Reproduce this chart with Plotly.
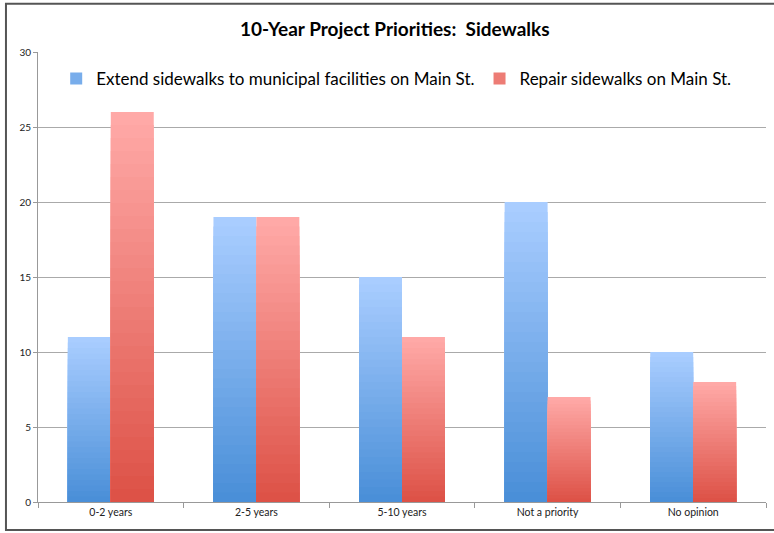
import plotly.graph_objects as go

categories = ["0-2 years", "2-5 years", "5-10 years", "Not a priority", "No opinion"]
extend_vals = [11, 19, 15, 20, 10]
repair_vals = [26, 19, 11, 7, 8]

series = [
    ("Extend sidewalks to municipal facilities on Main St.", extend_vals, (169, 205, 255), (74, 143, 216), -0.295),
    ("Repair sidewalks on Main St.", repair_vals, (255, 169, 167), (221, 82, 71), 0.0),
]

N = 30  # layers used to fake the vertical gradient
fig = go.Figure()
for name, vals, light, dark, off in series:
    for k in range(N):
        t = k / (N - 1)
        c = tuple(round(light[i] + (dark[i] - light[i]) * t) for i in range(3))
        fig.add_trace(go.Bar(
            x=categories,
            y=[v * (N - k) / N for v in vals],
            name=name,
            width=0.295,
            offset=off,
            marker=dict(color="rgb(%d,%d,%d)" % c, line=dict(width=0)),
            showlegend=(k == N // 2),
            legendgroup=name,
            hoverinfo="skip",
        ))

fig.update_layout(
    width=774, height=533,
    margin=dict(l=38, r=8, t=52, b=31, autoexpand=False),
    paper_bgcolor="white", plot_bgcolor="white",
    barmode="overlay",
    title=dict(text="<b>10-Year Project Priorities:  Sidewalks</b>", x=0.51, xanchor="center",
               y=0.944, yanchor="middle", font=dict(family="Lato", size=19, color="black")),
    legend=dict(orientation="h", x=0.025, y=0.94, xanchor="left", yanchor="middle",
                font=dict(family="Lato", size=17, color="black"), bgcolor="rgba(0,0,0,0)",
                itemwidth=30, tracegroupgap=0),
    font=dict(family="Lato", size=10, color="#222"),
    # frame around the chart: left, top and bottom edges only (right edge is cut off)
    shapes=[dict(type="path", xref="paper", yref="paper",
                 path="M 1.02,1.107 L -0.044,1.107 L -0.044,-0.062 L 1.02,-0.062",
                 line=dict(color="#555", width=2), layer="above")],
)
fig.update_xaxes(showline=True, linecolor="#999", linewidth=1, ticks="outside", tickcolor="#999",
                 ticklen=5, tickson="boundaries", showgrid=False, automargin=False,
                 tickfont=dict(size=10.5, color="#222"))
fig.update_yaxes(range=[0, 30], dtick=5, showline=True, linecolor="#999", linewidth=1,
                 ticks="outside", tickcolor="#999", ticklen=4, gridcolor="#aaa", gridwidth=1,
                 automargin=False, tickfont=dict(size=10, color="#222"), zeroline=False)

# page has a default body margin, drop it so the figure sits at 0,0
fig.write_html("out.html", config={"displayModeBar": False},
               post_script="document.body.style.margin='0';")
